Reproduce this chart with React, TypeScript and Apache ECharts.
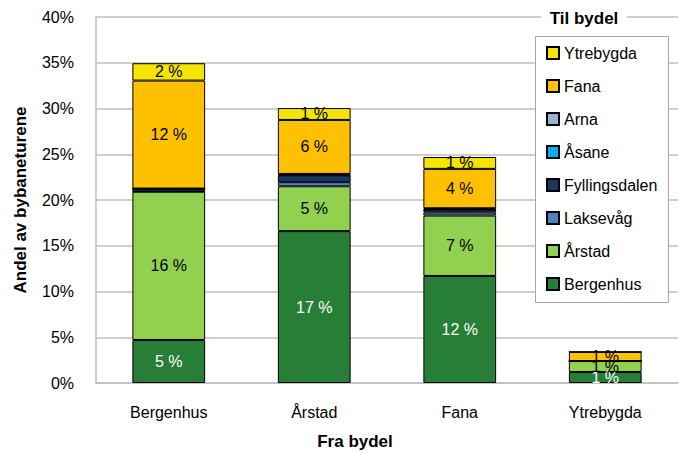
import React, { useEffect, useRef } from "react";
import * as echarts from "echarts";

const categories = ["Bergenhus", "Årstad", "Fana", "Ytrebygda"];
const seriesNames = ["Bergenhus", "Årstad", "Laksevåg", "Fyllingsdalen", "Åsane", "Arna", "Fana", "Ytrebygda"];
const toBergenhus = [4.7, 16.6, 11.7, 1.2];
const toArstad = [16.2, 4.9, 6.6, 1.2];
const toLaksevag = [0.05, 0.45, 0.35, 0];
const toFyllingsdalen = [0.3, 0.75, 0.3, 0];
const toAsane = [0, 0.05, 0.05, 0];
const toArna = [0, 0.1, 0.1, 0];
const toFana = [11.8, 5.9, 4.3, 1.0];
const toYtrebygda = [1.9, 1.3, 1.3, 0];
const yTicks = [0, 5, 10, 15, 20, 25, 30, 35, 40];

const seriesData = [toBergenhus, toArstad, toLaksevag, toFyllingsdalen, toAsane, toArna, toFana, toYtrebygda];
const colors = ["#267E37", "#92D050", "#4F81BD", "#1B365F", "#00B0F0", "#95B3D7", "#FFC000", "#F5E400"];
const labelColors = ["#ffffff", "#000", "#000", "#000", "#000", "#000", "#000", "#000"];

const FONT = "'Liberation Sans', Arial, sans-serif";

export default function App() {
  const ref = useRef<HTMLDivElement>(null);
  useEffect(() => {
    if (!ref.current) return;
    const chart = echarts.init(ref.current, null, { renderer: "svg" });
    const option: any = {
      animation: false,
      backgroundColor: "#ffffff",
      textStyle: { fontFamily: FONT },
      grid: { left: 96, right: 1, top: 17, bottom: 69, outerBoundsMode: "none", containLabel: false },
      xAxis: {
        type: "category",
        data: categories,
        axisLine: { show: true, lineStyle: { color: "#BFBFBF", width: 1.5 } },
        axisTick: { show: false },
        axisLabel: { color: "#000", fontSize: 16, margin: 21, fontFamily: FONT },
        name: "Fra bydel",
        nameLocation: "middle",
        nameGap: 50,
        nameTextStyle: { fontSize: 17, fontWeight: "bold", color: "#000", fontFamily: FONT, padding: [0, 64, 0, 0] },
      },
      yAxis: {
        type: "value",
        min: yTicks[0],
        max: yTicks[yTicks.length - 1],
        interval: 5,
        axisLine: { show: true, lineStyle: { color: "#BFBFBF", width: 1.5 } },
        axisTick: { show: false },
        splitLine: { show: true, lineStyle: { color: "#BFBFBF", width: 1.5 } },
        axisLabel: { color: "#000", fontSize: 16, margin: 22, formatter: "{value}%", fontFamily: FONT },
        name: "Andel av bybaneturene",
        nameLocation: "middle",
        nameGap: 67,
        nameTextStyle: { fontSize: 17, fontWeight: "bold", color: "#000", fontFamily: FONT },
      },
      legend: {
        orient: "vertical",
        left: 546,
        top: 44,
        padding: 0,
        itemWidth: 12,
        itemHeight: 12,
        itemGap: 15,
        icon: "rect",
        z: 20,
        data: [...seriesNames].reverse(),
        textStyle: { fontSize: 16, lineHeight: 18, color: "#000", fontFamily: FONT },
      },
      graphic: [
        {
          type: "rect",
          z: 10,
          shape: { x: 535.5, y: 36.5, width: 133, height: 266 },
          style: { fill: "#ffffff", stroke: "#A6A6A6", lineWidth: 1 },
        },
        {
          type: "rect",
          z: 10,
          shape: { x: 541, y: 6, width: 86, height: 24 },
          style: { fill: "#ffffff" },
        },
        {
          type: "text",
          z: 11,
          x: 584,
          y: 18,
          style: {
            text: "Til bydel",
            fontSize: 17,
            fontWeight: "bold",
            fontFamily: FONT,
            fill: "#000",
            align: "center",
            verticalAlign: "middle",
          },
        },
      ],
      series: seriesNames.map((name, i) => ({
        name,
        type: "bar",
        stack: "total",
        barWidth: "50%",
        data: seriesData[i],
        itemStyle: { color: colors[i], borderColor: "#000", borderWidth: 1 },
        label: {
          show: true,
          position: "inside",
          color: labelColors[i],
          fontSize: 16,
          fontFamily: FONT,
          formatter: (p: any) => (p.value >= 0.95 ? Math.round(p.value) + " %" : ""),
        },
      })),
    };
    chart.setOption(option);
    return () => chart.dispose();
  }, []);
  return (
    <div
      ref={ref}
      style={{ position: "fixed", left: 0, top: 0, width: 679, height: 452 }}
    />
  );
}
